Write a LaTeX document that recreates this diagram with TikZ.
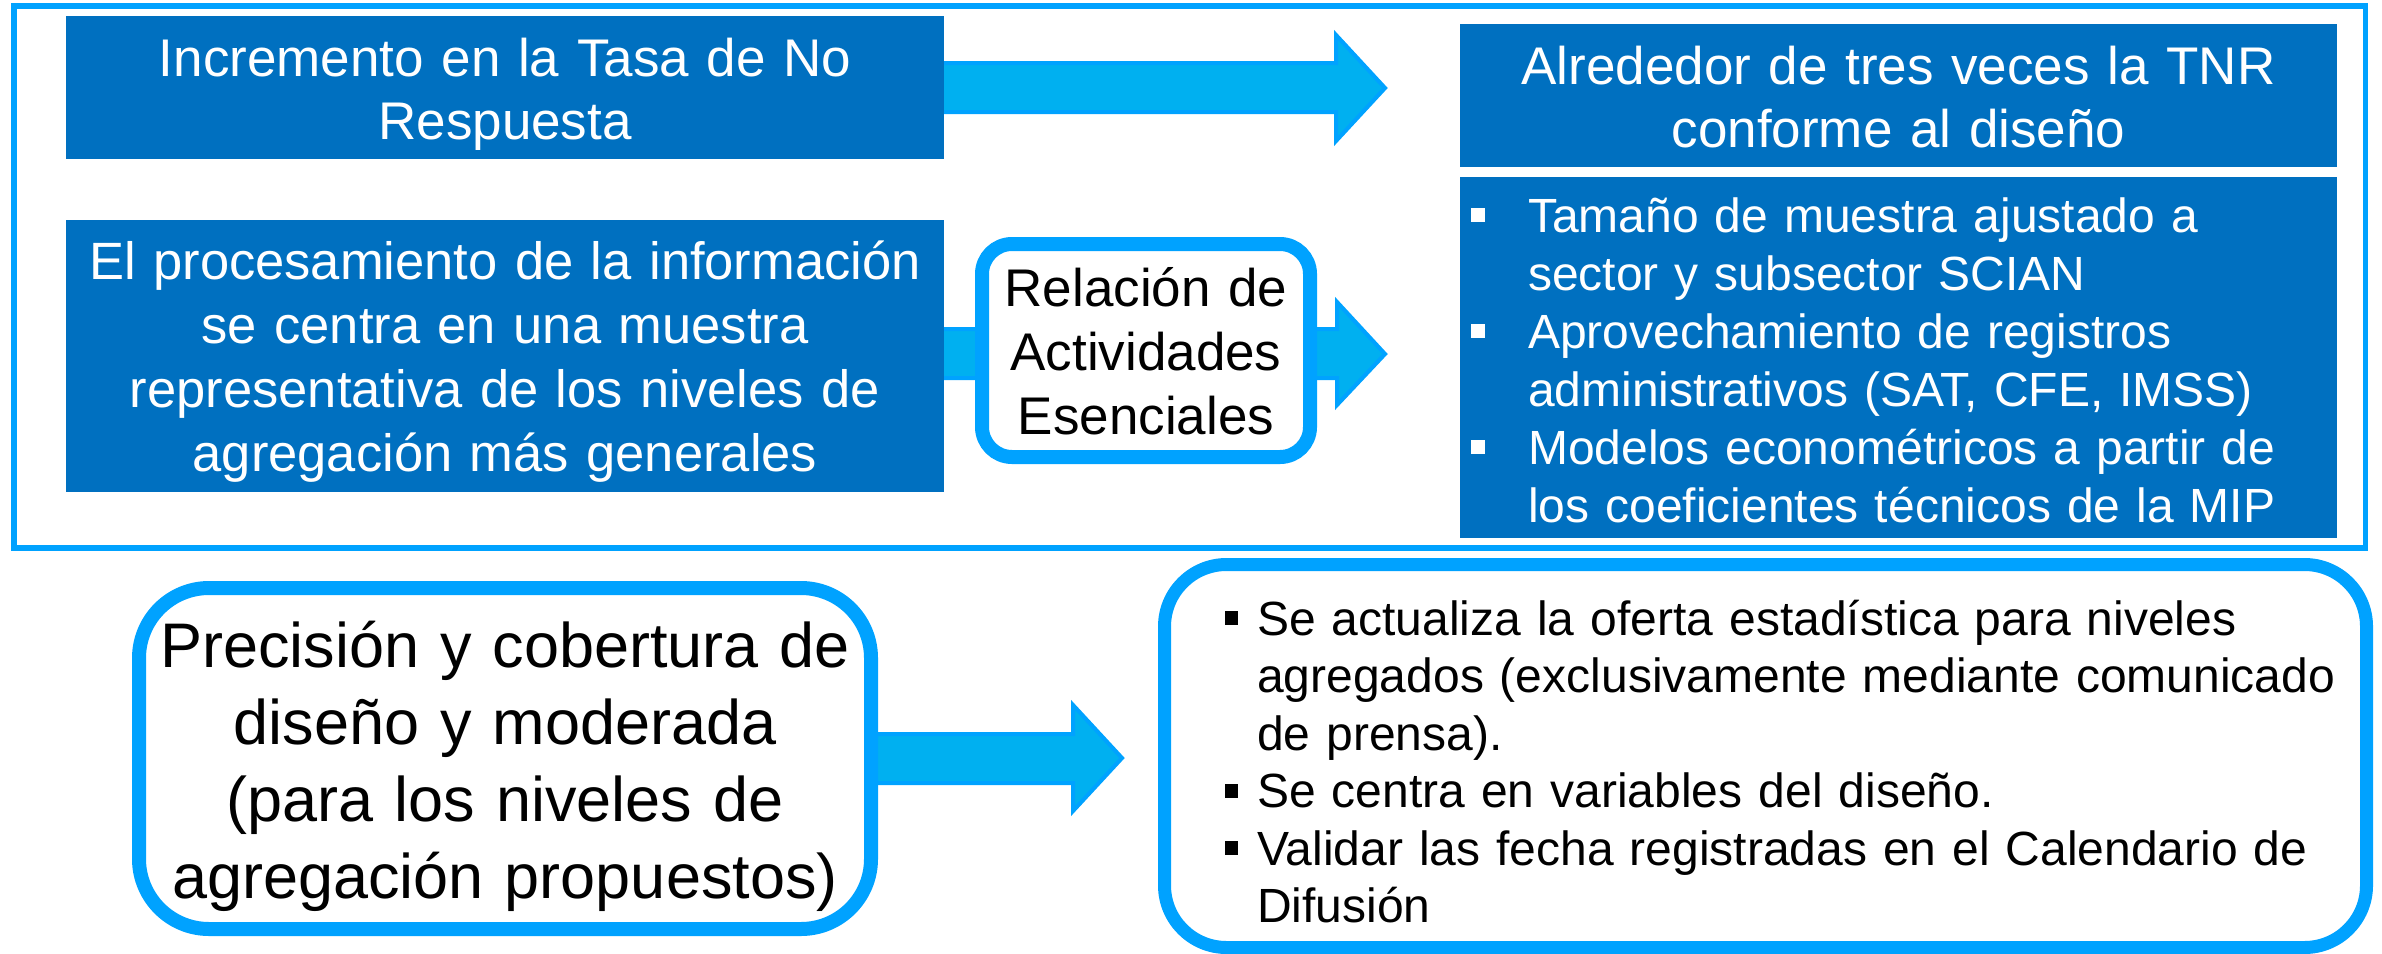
\documentclass[tikz,border=0pt]{standalone}
\usepackage{fontspec}
\setmainfont{Liberation Sans}
\definecolor{darkbox}{HTML}{0070C0}
\definecolor{cyanfill}{HTML}{00B0F0}
\definecolor{brightline}{HTML}{00A2FF}
\newcommand{\bulw}{\makebox[57pt][l]{\raisebox{10pt}{\color{white}\rule{14pt}{14pt}}}}
\newcommand{\bulb}{\makebox[32pt][l]{\raisebox{10pt}{\rule{13pt}{14pt}}}}
\begin{document}
\begin{tikzpicture}[x=1pt,y=-1pt,
  bluebox/.style={fill=darkbox,draw=none,inner sep=0pt,minimum width=#1},
  roundbox/.style={draw=brightline,fill=white,line width=14pt,inner sep=0pt},
  blockarrow/.style={fill=cyanfill,draw=brightline,line width=4pt,line join=miter},
  wtext/.style={text=white,inner sep=0pt,align=center,anchor=base},
  btext/.style={text=black,inner sep=0pt,anchor=base}]
\useasboundingbox (0,0) rectangle (2382,953);
\fill[white] (0,0) rectangle (2382,953);
% outer frame
\draw[brightline,line width=5.5pt] (14,6) rectangle (2365.5,548);
% arrows (drawn beneath boxes)
\draw[blockarrow] (930,63) -- (1336,63) -- (1336,35) -- (1385,88) -- (1336,141) -- (1336,112) -- (930,112) -- cycle;
\draw[blockarrow] (930,329) -- (1337,329) -- (1337,302) -- (1385,354) -- (1337,405) -- (1337,378) -- (930,378) -- cycle;
\draw[blockarrow] (860,734) -- (1073,734) -- (1073,705) -- (1122,758) -- (1073,811) -- (1073,783) -- (860,783) -- cycle;
% dark boxes
\node[bluebox=878pt,minimum height=143pt] (b1) at (505,87.5) {};
\node[bluebox=878pt,minimum height=272pt] (b2) at (505,356) {};
\node[bluebox=877pt,minimum height=143pt] (b3) at (1898.5,95.5) {};
\node[bluebox=877pt,minimum height=361pt] (b4) at (1898.5,357.5) {};
% rounded boxes
\node[roundbox,rounded corners=30pt,minimum width=328pt,minimum height=213pt] (rel) at (1146,350.5) {};
\node[roundbox,rounded corners=70pt,minimum width=732pt,minimum height=341pt] (prec) at (505,758.5) {};
\node[roundbox,line width=13pt,rounded corners=62pt,minimum width=1202pt,minimum height=383pt] (res) at (1765.5,756) {};
% texts
\node[wtext,text width=860pt,font=\fontsize{53}{63.5}\selectfont] (t1) at (505,76) {Incremento en la Tasa de No\\Respuesta};
\node[wtext,text width=870pt,font=\fontsize{52.5}{64}\selectfont] (t2) at (505,279) {El procesamiento de la información\\se centra en una muestra\\representativa de los niveles de\\agregación más generales};
\node[wtext,text width=860pt,font=\fontsize{53}{63.5}\selectfont] (t3) at (1898.5,84) {Alrededor de tres veces la TNR\\conforme al diseño};
\node[text=white,inner sep=0pt,anchor=base west,align=left,text width=870pt,font=\fontsize{48}{58}\selectfont] (t4) at (1471,232) {\bulw Tamaño de muestra ajustado a\\\hspace*{57pt}sector y subsector SCIAN\\\bulw Aprovechamiento de registros\\\hspace*{57pt}administrativos (SAT, CFE, IMSS)\\\bulw Modelos econométricos a partir de\\\hspace*{57pt}los coeficientes técnicos de la MIP};
\node[btext,align=center,text width=320pt,font=\fontsize{53}{64}\selectfont] (t5) at (1146,306) {Relación de\\Actividades\\Esenciales};
\node[btext,align=center,text width=720pt,font=\fontsize{63}{77}\selectfont] (t6) at (505,667) {Precisión y cobertura de\\diseño y moderada\\(para los niveles de\\agregación propuestos)};
\node[btext,anchor=base west,align=left,text width=1130pt,font=\fontsize{48}{57.5}\selectfont] (t7) at (1225,635) {\bulb Se actualiza la oferta estadística para niveles\\\hspace*{32pt}agregados (exclusivamente mediante comunicado\\\hspace*{32pt}de prensa).\\\bulb Se centra en variables del diseño.\\\bulb Validar las fecha registradas en el Calendario de\\\hspace*{32pt}Difusión};
\end{tikzpicture}
\end{document}
